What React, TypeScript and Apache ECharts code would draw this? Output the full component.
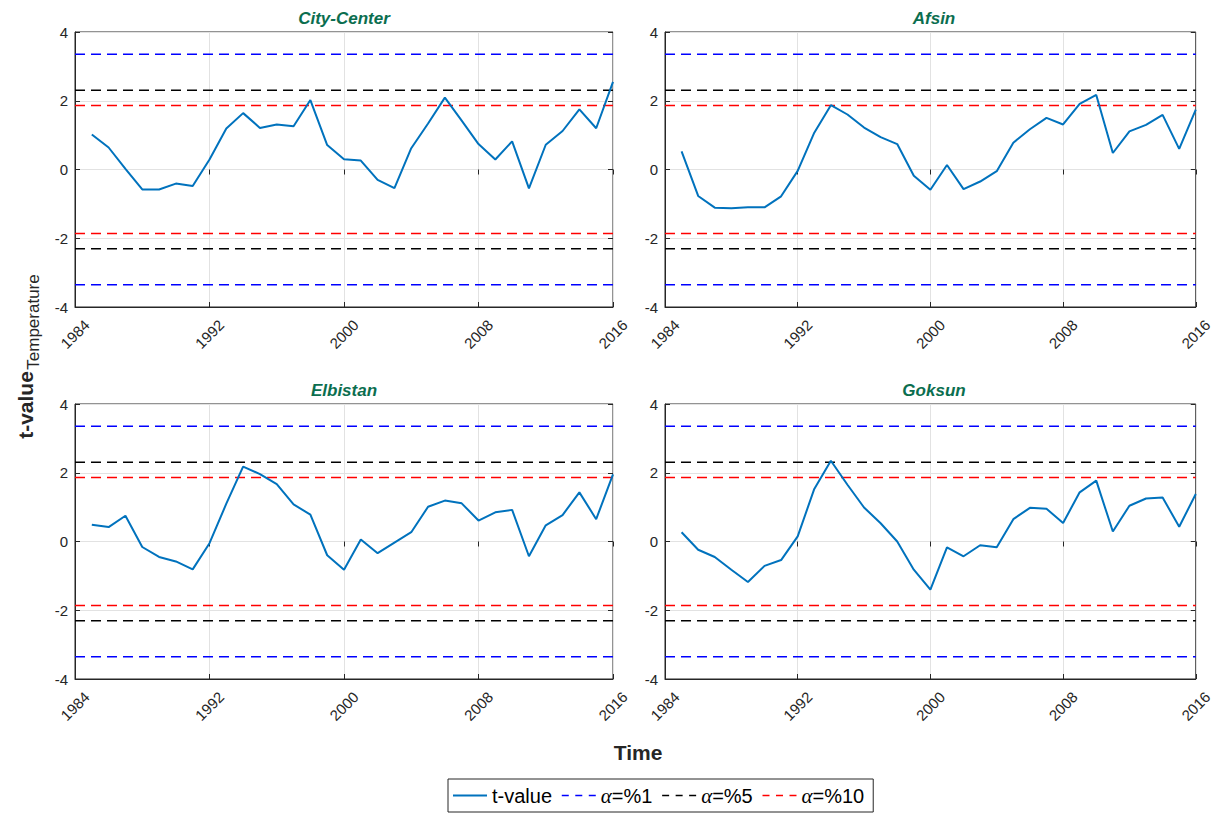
import React, { useEffect, useRef } from 'react';
import * as echarts from 'echarts';

const years = [1985, 1986, 1987, 1988, 1989, 1990, 1991, 1992, 1993, 1994, 1995, 1996, 1997, 1998, 1999, 2000,
  2001, 2002, 2003, 2004, 2005, 2006, 2007, 2008, 2009, 2010, 2011, 2012, 2013, 2014, 2015, 2016];

const cityCenter = [1.02, 0.64, 0.02, -0.58, -0.58, -0.41, -0.48, 0.29, 1.19, 1.64, 1.21, 1.31, 1.26, 2.02, 0.71, 0.30,
  0.26, -0.30, -0.54, 0.62, 1.34, 2.09, 1.42, 0.74, 0.29, 0.82, -0.55, 0.72, 1.12, 1.75, 1.20, 2.55];
const afsin = [0.53, -0.77, -1.11, -1.13, -1.10, -1.10, -0.78, -0.04, 1.07, 1.87, 1.60, 1.22, 0.94, 0.74, -0.18, -0.59,
  0.13, -0.57, -0.35, -0.05, 0.78, 1.17, 1.50, 1.31, 1.91, 2.17, 0.48, 1.11, 1.30, 1.59, 0.60, 1.74];
const elbistan = [0.49, 0.42, 0.75, -0.16, -0.45, -0.58, -0.81, -0.05, 1.10, 2.18, 1.96, 1.67, 1.08, 0.78, -0.40, -0.82,
  0.06, -0.34, -0.03, 0.27, 1.01, 1.19, 1.11, 0.61, 0.85, 0.92, -0.43, 0.47, 0.77, 1.43, 0.65, 1.95];
const goksun = [0.27, -0.24, -0.45, -0.82, -1.18, -0.71, -0.54, 0.15, 1.53, 2.35, 1.65, 0.99, 0.53, 0.00, -0.82, -1.40,
  -0.17, -0.43, -0.11, -0.17, 0.65, 0.98, 0.95, 0.54, 1.43, 1.77, 0.29, 1.04, 1.25, 1.28, 0.43, 1.38];

const stations = ['City-Center', 'Afsin', 'Elbistan', 'Goksun'];
const stationValues = [cityCenter, afsin, elbistan, goksun];

const thresholdNames = ['α=%1', 'α=%5', 'α=%10'];
const thresholdValues = [3.355, 2.306, 1.86];
const thresholdColors = ['#0000FF', '#000000', '#FF0000'];
const lineColor = '#0072BD';

const xTicks = { min: 1984, max: 2016, interval: 8 };
const yTicks = { min: -4, max: 4, interval: 2 };

const FONT = '"Liberation Sans", Arial, Helvetica, sans-serif';
const AXIS_COLOR = '#262626';

const panels = [
  { left: 75, top: 32 },
  { left: 665, top: 32 },
  { left: 75, top: 404 },
  { left: 665, top: 404 },
];
const PW = 538;
const PH = 275;

export default function App() {
  const ref = useRef<HTMLDivElement>(null);
  useEffect(() => {
    const chart = echarts.init(ref.current!, null, { renderer: 'svg' });
    const grid: any[] = [];
    const xAxis: any[] = [];
    const yAxis: any[] = [];
    const series: any[] = [];
    const graphic: any[] = [];

    panels.forEach((p, i) => {
      grid.push({
        left: p.left, top: p.top, width: PW, height: PH,
        show: true, borderColor: AXIS_COLOR, borderWidth: 1, backgroundColor: '#fff',
      });
      xAxis.push({
        type: 'value', gridIndex: i, position: 'bottom', ...xTicks,
        axisLine: { show: true, onZero: false, lineStyle: { color: AXIS_COLOR, width: 1 } },
        axisTick: { show: true, inside: true, length: 5, lineStyle: { color: AXIS_COLOR } },
        axisLabel: {
          show: true, rotate: 45, align: 'center', verticalAlign: 'middle',
          fontSize: 15, color: AXIS_COLOR, fontFamily: FONT, margin: 27,
          formatter: (v: number) => String(v),
        },
        splitLine: { show: true, lineStyle: { color: '#e2e2e2', width: 1 } },
      });
      xAxis.push({
        type: 'value', gridIndex: i, position: 'top', ...xTicks,
        axisLine: { show: false },
        axisTick: { show: true, inside: true, length: 5, lineStyle: { color: AXIS_COLOR } },
        axisLabel: { show: false },
        splitLine: { show: false },
      });
      yAxis.push({
        type: 'value', gridIndex: i, position: 'left', ...yTicks,
        axisLine: { show: true, onZero: false, lineStyle: { color: AXIS_COLOR, width: 1 } },
        axisTick: { show: true, inside: true, length: 5, lineStyle: { color: AXIS_COLOR } },
        axisLabel: { show: true, fontSize: 15, color: AXIS_COLOR, fontFamily: FONT, margin: 7 },
        splitLine: { show: true, lineStyle: { color: '#e2e2e2', width: 1 } },
      });
      yAxis.push({
        type: 'value', gridIndex: i, position: 'right', ...yTicks,
        axisLine: { show: false },
        axisTick: { show: true, inside: true, length: 5, lineStyle: { color: AXIS_COLOR } },
        axisLabel: { show: false },
        splitLine: { show: false },
      });

      thresholdValues.forEach((tv, k) => {
        [tv, -tv].forEach((v) => {
          series.push({
            type: 'line', name: thresholdNames[k], xAxisIndex: 2 * i, yAxisIndex: 2 * i,
            data: [[xTicks.min, v], [xTicks.max, v]],
            symbol: 'none', silent: true, z: 3,
            lineStyle: { color: thresholdColors[k], width: 1.5, type: [10, 6] },
            itemStyle: { color: thresholdColors[k] },
          });
        });
      });
      series.push({
        type: 'line', name: 't-value', xAxisIndex: 2 * i, yAxisIndex: 2 * i,
        data: years.map((y, j) => [y, stationValues[i][j]]),
        symbol: 'none', z: 4,
        lineStyle: { color: lineColor, width: 2 },
        itemStyle: { color: lineColor },
      });

      graphic.push({
        type: 'text', x: p.left + PW / 2, y: p.top - 14,
        style: {
          text: stations[i], fill: '#0B6E4F', font: `italic bold 17px ${FONT}`,
          textAlign: 'center', textVerticalAlign: 'middle',
        },
      });
    });

    graphic.push({
      type: 'text', x: 638, y: 752,
      style: { text: 'Time', fill: AXIS_COLOR, font: `bold 21px ${FONT}`, textAlign: 'center', textVerticalAlign: 'middle' },
    });
    graphic.push({
      type: 'text', x: 25, y: 405, rotation: Math.PI / 2,
      style: { text: 't-value', fill: AXIS_COLOR, font: `bold 21px ${FONT}`, textAlign: 'center', textVerticalAlign: 'middle' },
    });
    graphic.push({
      type: 'text', x: 33, y: 322, rotation: Math.PI / 2,
      style: { text: 'Temperature', fill: AXIS_COLOR, font: `17px ${FONT}`, textAlign: 'center', textVerticalAlign: 'middle' },
    });

    const legendItem = (name: string, dashed: boolean, color: string) => ({
      name,
      itemStyle: { opacity: 0 },
      lineStyle: dashed
        ? { color, width: 1.5, type: [7, 6.5], opacity: 1 }
        : { color, width: 2, type: 'solid', opacity: 1 },
    });

    chart.setOption({
      animation: false,
      backgroundColor: '#fff',
      grid, xAxis, yAxis, series, graphic,
      legend: {
        data: [
          legendItem('t-value', false, lineColor),
          ...thresholdNames.map((n, k) => legendItem(n, true, thresholdColors[k])),
        ],
        left: 448, top: 779,
        orient: 'horizontal',
        backgroundColor: '#fff',
        borderColor: AXIS_COLOR, borderWidth: 1, borderRadius: 0,
        padding: [6, 9, 6, 4],
        itemWidth: 34, itemHeight: 14, itemGap: 9,
        selectedMode: false,
        formatter: (name: string) => name.replace('α', '{a|α}'),
        textStyle: {
          fontSize: 20, color: '#000', fontFamily: FONT,
          rich: {
            a: { fontSize: 21, fontStyle: 'italic', fontFamily: '"Liberation Serif", "Times New Roman", serif', color: '#000' },
          },
        },
      },
    });
    return () => chart.dispose();
  }, []);
  return (
    <div
      ref={ref}
      style={{ position: 'fixed', left: 0, top: 0, width: 1215, height: 814, background: '#fff' }}
    />
  );
}
